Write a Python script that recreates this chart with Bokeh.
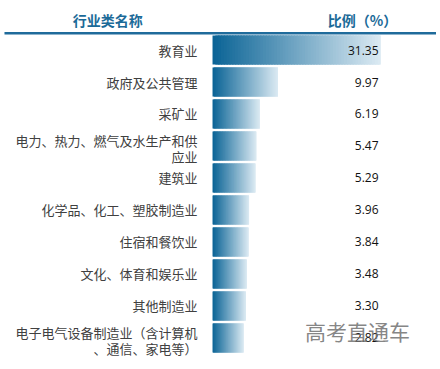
from bokeh.plotting import figure
from bokeh.models import Range1d, ColumnDataSource
from bokeh.core.properties import value
from bokeh.embed import file_html
from bokeh.resources import INLINE

categories = [
    "教育业",
    "政府及公共管理",
    "采矿业",
    "电力、热力、燃气及水生产和供\n应业",
    "建筑业",
    "化学品、化工、塑胶制造业",
    "住宿和餐饮业",
    "文化、体育和娱乐业",
    "其他制造业",
    "电子电气设备制造业（含计算机\n、通信、家电等）",
]
values = [31.35, 9.97, 6.19, 5.47, 5.29, 3.96, 3.84, 3.48, 3.30, 2.82]
value_labels = ["31.35", "9.97", "6.19", "5.47", "5.29", "3.96", "3.84", "3.48", "3.30", "2.82"]
header_left = "行业类名称"
header_right = "比例（%）"
watermark = "高考直通车"

BAR_BASE = -3.65
X0, X1 = -47.82, 43.01
Y_TOP, Y_BOT = -1.547, 9.766

p = figure(width=436, height=362, output_backend="svg", toolbar_location=None,
           x_range=Range1d(X0, X1), y_range=Range1d(Y_BOT, Y_TOP),
           min_border=0, background_fill_color="white", border_fill_color="white")
p.axis.visible = False
p.grid.visible = False
p.outline_line_color = None

# gradient bars: slices overlapping their neighbour to hide seams
c0 = (11, 100, 150)
c1 = (218, 233, 242)
N = 60
lefts, rights, ys, cols = [], [], [], []
for k in range(N):
    t = k / (N - 1)
    col = tuple(int(round(c0[j] + (c1[j] - c0[j]) * t)) for j in range(3))
    for i, v in enumerate(values):
        span = v - BAR_BASE
        l = BAR_BASE + span * k / N
        lefts.append(l)
        rights.append(min(v, l + 2.5 * span / N))
        ys.append(i)
        cols.append("#%02x%02x%02x" % col)
src = ColumnDataSource(dict(left=lefts, right=rights, y=ys, color=cols))
p.hbar(y="y", left="left", right="right", height=0.906, fill_color="color",
       line_color=None, source=src)

# category labels (two-line ones split into lines)
lx, ly, lt = [], [], []
for i, c in enumerate(categories):
    parts = c.split("\n")
    if len(parts) == 1:
        lx.append(-6.78); ly.append(i); lt.append(parts[0])
    else:
        lx += [-6.78, -6.78]; ly += [i - 0.17, i + 0.32]; lt += parts
p.text(x=lx, y=ly, text=lt, text_align="right",
       text_baseline="middle", text_font=value("Noto Sans CJK SC"),
       text_font_size="13px", text_color="#404040")

rows = list(range(len(categories)))
p.text(x=[30.93] * len(rows), y=rows, text=value_labels, text_align="right",
       text_baseline="middle", text_font=value("Open Sans"),
       text_font_size="12px", text_color="#111111")

# header
p.text(x=[-25.5, 27.6], y=[-0.953, -0.953], text=[header_left, header_right],
       text_align="center", text_baseline="middle",
       text_font=value("Noto Sans CJK SC"), text_font_style="bold",
       text_font_size="14px", text_color="#1b6a98")
p.segment(x0=[-46.99], x1=[X1], y0=[-0.52], y1=[-0.52], line_color="#1f6b9b", line_width=2.5)

# watermark
p.text(x=[26.56], y=[8.77], text=[watermark], text_align="center",
       text_baseline="middle", text_font=value("Noto Sans CJK SC"),
       text_font_size="21px", text_color="#707070", text_alpha=0.85)

open("out.html", "w").write(file_html(p, INLINE))
